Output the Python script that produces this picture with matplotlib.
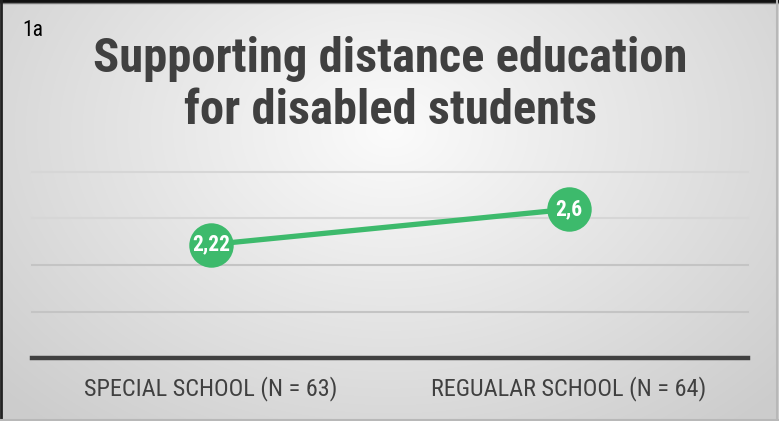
import matplotlib; matplotlib.use("Agg")
import matplotlib.pyplot as plt
from matplotlib import font_manager
import numpy as np

categories = ["SPECIAL SCHOOL (N = 63)", "REGUALAR SCHOOL (N = 64)"]
means = [2.22, 2.6]
value_labels = ["2,22", "2,6"]
y_ticks = [1.0, 1.5, 2.0, 2.5, 3.0]
title = "Supporting distance education\nfor disabled students"
panel = "1a"

def pick_font(names):
    for n in names:
        try:
            font_manager.findfont(n, fallback_to_default=False)
            return n
        except Exception:
            pass
    return "DejaVu Sans"

FONT = pick_font(["Liberation Sans Narrow", "Roboto Condensed", "Roboto", "Liberation Sans"])
GREEN = "#3dba6c"; DARK = "#404040"

W, H = 779, 421
fig = plt.figure(figsize=(W/100, H/100), dpi=100)

# background: soft radial gradient, light centre-top, grey edges
bg = fig.add_axes([0, 0, 1, 1], zorder=-10)
yy, xx = np.mgrid[0:H, 0:W]
d = np.sqrt(((xx - 390) / 520.0) ** 2 + ((yy - 130) / 380.0) ** 2)
g = np.clip(0.985 - 0.18 * d, 0.8, 1.0)
bg.imshow(np.dstack([g, g, g]), extent=[0, W, H, 0], aspect="auto", interpolation="bilinear")
# frame: dark top/left, light grey right/bottom
bg.plot([0, W], [1, 1], color="#111111", lw=2.5)
bg.plot([0, W], [3.2, 3.2], color="#777777", lw=1.0)
bg.plot([1, 1], [0, H], color="#222222", lw=2.0)
bg.plot([W - 1.5, W - 1.5], [0, H], color="#b8b8b8", lw=1.5)
bg.plot([0, W], [H - 1, H - 1], color="#b8b8b8", lw=1.5)
bg.set_xlim(0, W); bg.set_ylim(H, 0); bg.axis("off")

# main plot area in pixel coordinates
x0, x1, ytop, ybot = 32, 748, 172, 358
ax = fig.add_axes([x0 / W, 1 - ybot / H, (x1 - x0) / W, (ybot - ytop) / H])
ax.patch.set_alpha(0)
xs = np.arange(len(categories))
ax.set_xlim(-0.5, len(categories) - 0.5)
ax.set_ylim(y_ticks[0], y_ticks[-1])
for i, t in enumerate(y_ticks[1:]):
    ax.axhline(t, color="#c4c4c4" if i < 2 else "#d6d6d6", lw=1.5, zorder=1, clip_on=False)
ax.axhline(y_ticks[0], color=DARK, lw=3.2, zorder=2, clip_on=False)
ax.plot(xs, means, color=GREEN, lw=3.8, zorder=3, solid_capstyle="butt")
ax.plot(xs, means, "o", ms=32, color=GREEN, mec="none", zorder=4)
for x, v, s in zip(xs, means, value_labels):
    ax.text(x, v, s, ha="center", va="center", color="white", fontsize=15.5,
            fontweight="bold", family=FONT, zorder=5)
ax.set_xticks(xs)
ax.set_xticklabels(categories, family=FONT, fontsize=17.5, color=DARK)
ax.tick_params(axis="x", length=0, pad=13)
ax.set_yticks([])
for sp in ax.spines.values():
    sp.set_visible(False)

fig.text(390 / W, 1 - 85 / H, title, ha="center", va="center", fontsize=35,
         fontweight="bold", color=DARK, family=FONT, linespacing=1.17)
fig.text(22 / W, 1 - 31 / H, panel, ha="left", va="center", fontsize=15.5,
         color="black", family=FONT)

fig.savefig("out.png", dpi=100)
